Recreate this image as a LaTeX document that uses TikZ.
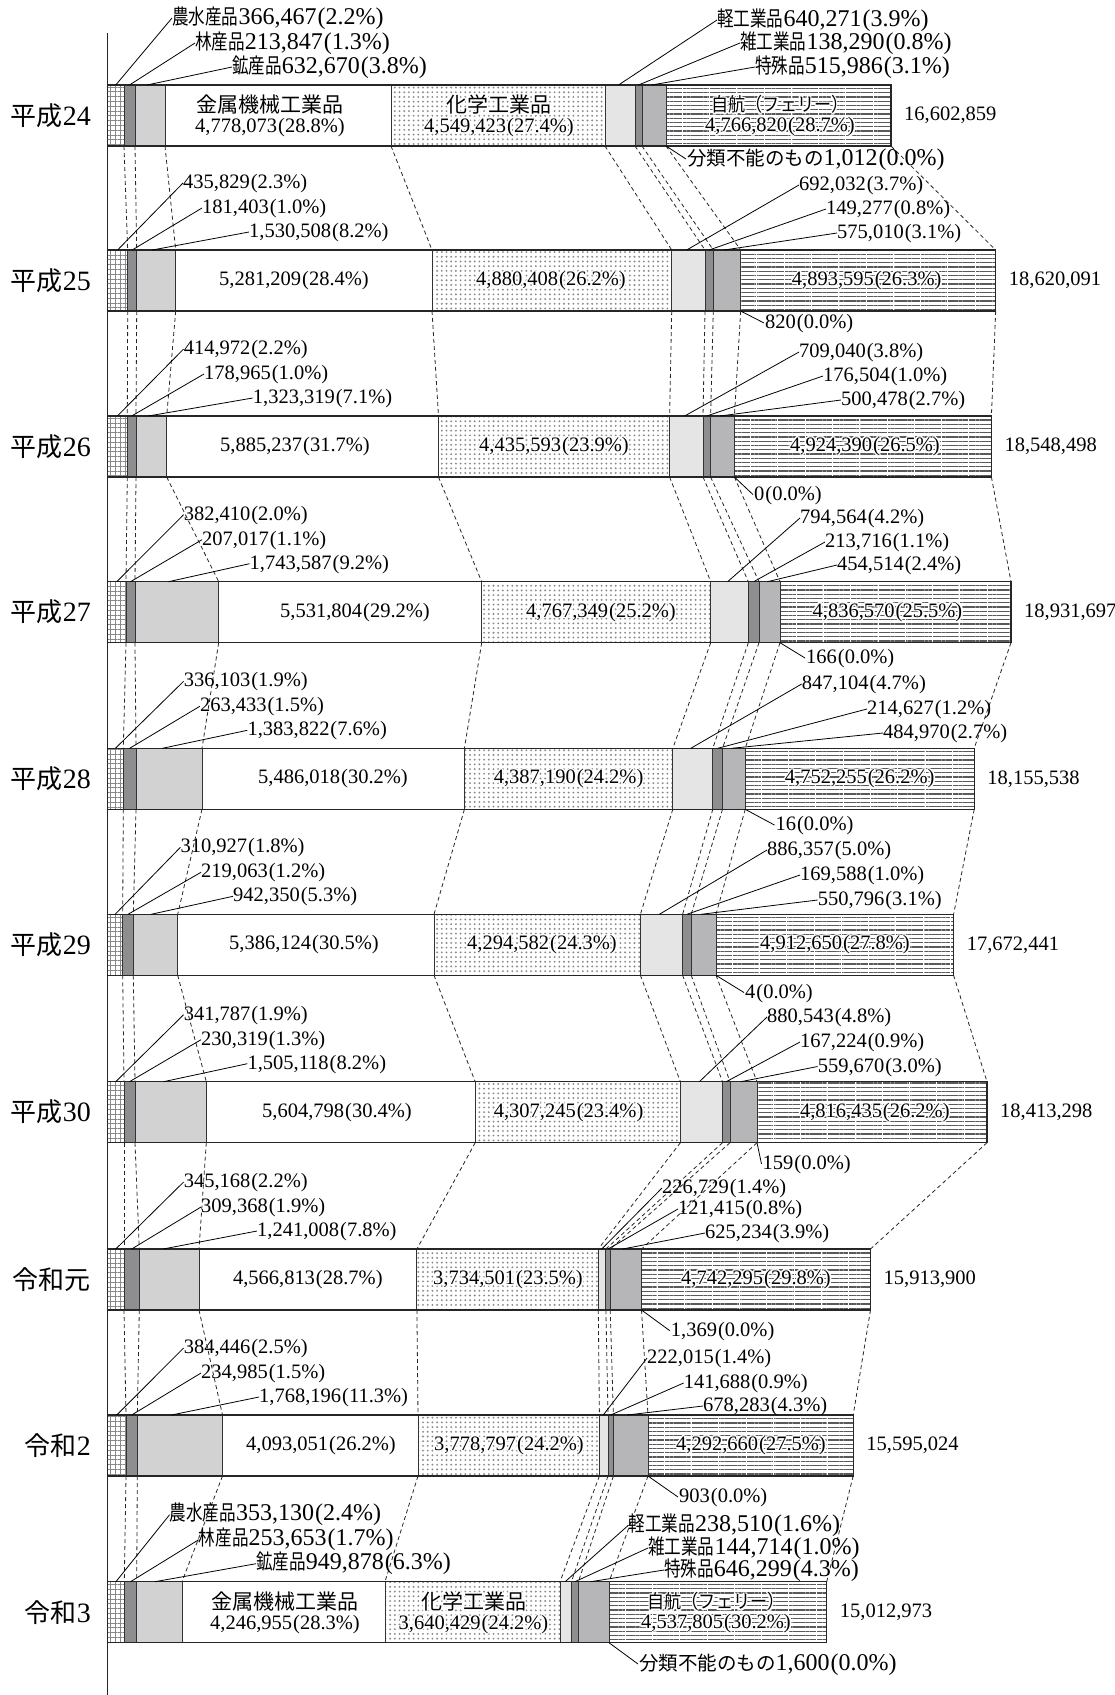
\documentclass[tikz,border=0pt]{standalone}
\usepackage{fontspec}
\setmainfont{Liberation Serif}
\newfontfamily\jpc{Noto Sans CJK JP}[FakeStretch=0.79]
\newfontfamily\jpm{Noto Sans CJK JP}[FakeStretch=0.9]
\newfontfamily\jpn{Noto Sans CJK JP}
\usetikzlibrary{calc,patterns.meta}
\definecolor{segdark}{HTML}{8E8E90}
\definecolor{seglight}{HTML}{D2D2D3}
\definecolor{segpale}{HTML}{E5E5E6}
\definecolor{segmed}{HTML}{B6B6B8}
\definecolor{patc}{HTML}{8A8A8A}
\definecolor{hatchc}{HTML}{5A5A5A}
\newcommand\cj[1]{{\jpc\fontsize{21}{22}\selectfont #1}}
\newcommand\cw[1]{{\jpn\fontsize{19.5}{22}\selectfont #1}}
\newcommand\ct[1]{{\jpn\fontsize{21}{20}\selectfont #1}}
\newcommand\cs[1]{{\jpm\fontsize{19}{20}\selectfont #1}}
\newcommand\rl[1]{{\jpn\fontsize{26}{28}\selectfont #1}}
\newcommand\pc[1]{\kern1pt(#1\%)}
\tikzset{
 lab/.style={inner sep=0pt, text height=15pt, text depth=4pt, font=\fontsize{20.5}{24}\selectfont, anchor=west},
 labbig/.style={inner sep=0pt, text height=16pt, text depth=4pt, font=\fontsize{24}{28}\selectfont, anchor=west},
 tot/.style={inner sep=0pt, font=\fontsize{20.5}{24}\selectfont, anchor=west},
 intext/.style={inner sep=0pt, font=\fontsize{20.5}{20}\selectfont, align=center},
 rowlab/.style={inner sep=0pt, font=\fontsize{28}{30}\selectfont, anchor=east},
 lead/.style={line width=0.8pt, black},
 conn/.style={line width=0.8pt, dash pattern=on 4pt off 3pt, black!85},
 segline/.style={line width=1pt, black!80},
 barline/.style={line width=1.3pt, black!85},
 axisline/.style={line width=1.5pt, black!85},
 seam/.style={line width=0.7pt, white},
 gridfill/.style={pattern={Hatch[distance=4.8pt,line width=0.6pt]}, pattern color=patc},
 dotfill/.style={pattern={Dots[distance=4.7pt,radius=1.05pt]}, pattern color=patc},
 linefill/.style={pattern={Lines[distance=4.25pt,line width=1.1pt]}, pattern color=hatchc},
}
\newcommand\defrow[3]{%
  \foreach \xx [count=\k from 0] in {#3} {
    \coordinate (#1t\k) at (\xx,#2);
    \coordinate (#1b\k) at (\xx,#2+61);
  }
  \coordinate (#1c) at (0,#2+30.5);
}
\newcommand\drawrow[1]{%
  \fill[white] (#1t0) rectangle (#1b10);
  \fill[gridfill] (#1t0) rectangle (#1b1);
  \fill[segdark] (#1t1) rectangle (#1b2);
  \fill[seglight] (#1t2) rectangle (#1b3);
  \fill[dotfill] (#1t4) rectangle (#1b5);
  \fill[segpale] (#1t5) rectangle (#1b6);
  \fill[segdark] (#1t6) rectangle (#1b7);
  \fill[segmed] (#1t7) rectangle (#1b8);
  \fill[linefill] (#1t9) rectangle (#1b10);
  \begin{scope}
    \clip (#1t9) rectangle (#1b10);
    \foreach \v in {0,...,14} {\draw[seam] ($(#1t9)+(16+27.3*\v,0)$) -- ($(#1b9)+(16+27.3*\v,0)$);}
  \end{scope}
  \foreach \k in {1,...,9} {\draw[segline] (#1t\k) -- (#1b\k);}
  \draw[barline] (#1t0) rectangle (#1b10);
}
\newcommand\connect[2]{\foreach \k in {1,...,8,10} {\draw[conn] (#1b\k) -- (#2t\k);}}
\newcommand\leftlabs[8]{%
  \node[#2] (#1L1) at (#3) {#6};
  \node[#2] (#1L2) at (#4) {#7};
  \node[#2] (#1L3) at (#5) {#8};
  \draw[lead] (#1L1.west) -- ($(#1t0)!.5!(#1t1)$);
  \draw[lead] (#1L2.west) -- ($(#1t1)!.5!(#1t2)$);
  \draw[lead] (#1L3.west) -- ($(#1t2)!.4!(#1t3)$);
}
\newcommand\rightlabs[8]{%
  \node[#2] (#1R1) at (#3) {#6};
  \node[#2] (#1R2) at (#4) {#7};
  \node[#2] (#1R3) at (#5) {#8};
  \draw[lead] (#1R1.west) -- ($(#1t5)!.45!(#1t6)$);
  \draw[lead] (#1R2.west) -- ($(#1t6)!.5!(#1t7)$);
  \draw[lead] (#1R3.west) -- ($(#1t7)!.4!(#1t8)$);
}
\newcommand\belowlab[4]{%
  \node[#2] (#1L7) at (#3) {#4};
  \draw[lead] ($(#1L7.west)+(-1,0)$) -- (#1b9);
}
\newcommand\totlab[2]{\node[tot] (#1T) at ($(#1t10)+(13,30.5)$) {#2};}
\newcommand\rowlab[2]{\node[rowlab] (#1Y) at ($(#1c)+(91,0)$) {#2};}
\newcommand\inplain[3]{\node[intext] (#1) at (#2) {#3};}
\newcommand\inhalo[3]{%
  \foreach \hx/\hy in {-1.6/0,1.6/0,0/-1.6,0/1.6,-1.15/-1.15,1.15/1.15,-1.15/1.15,1.15/-1.15}{
    \node[intext,text=white] at ($(#2)+(\hx,\hy)$) {#3};}
  \node[intext] (#1) at (#2) {#3};
}
\begin{document}
\begin{tikzpicture}[x=1pt,y=-1pt]
\useasboundingbox (0,0) rectangle (1114,1695);
\defrow{a}{85}{107.5,124,135,165,391,605,635,642,666,666,891}
\defrow{b}{250}{107.5,127.7,136.7,175.7,432,671.7,705,713.3,740.7,740.7,995.7}
\defrow{c}{416}{107.5,127.3,136,166.7,438.5,669.6,703,710.6,734.4,734.4,991.4}
\defrow{d}{581.7}{107.5,126,135,218.7,481.7,710.7,748.3,759,780,780,1011}
\defrow{e}{748.3}{107.5,123.3,136,202,464.4,672.8,712.8,722.5,745.2,745.2,974.2}
\defrow{f}{914.3}{107.5,122.7,133.3,177.7,434,640.4,682.6,691.2,716,716,953.6}
\defrow{g}{1081.7}{107.5,124,135,206.3,475.2,680.4,722.5,730,757,757,987}
\defrow{h}{1249}{107.5,124,139.3,199,416.9,598.3,605.9,610.2,641.5,641.5,870.5}
\defrow{i}{1415}{107.5,126,137.3,222.5,418,599.4,608,613.4,648,648,853.2}
\defrow{j}{1581.7}{107.5,124.3,136.7,182,385,560,571.4,578.4,609,609,826.7}
% connectors
\connect{a}{b}\connect{b}{c}\connect{c}{d}\connect{d}{e}\connect{e}{f}
\connect{f}{g}\connect{g}{h}\connect{h}{i}\connect{i}{j}
% bars
\drawrow{a}\drawrow{b}\drawrow{c}\drawrow{d}\drawrow{e}
\drawrow{f}\drawrow{g}\drawrow{h}\drawrow{i}\drawrow{j}
% row labels
\rowlab{a}{\rl{平成}24}\rowlab{b}{\rl{平成}25}\rowlab{c}{\rl{平成}26}
\rowlab{d}{\rl{平成}27}\rowlab{e}{\rl{平成}28}\rowlab{f}{\rl{平成}29}
\rowlab{g}{\rl{平成}30}\rowlab{h}{\rl{令和元}}\rowlab{i}{\rl{令和}2}
\rowlab{j}{\rl{令和}3}
% left labels
\leftlabs{a}{labbig}{172,18}{195,43}{232,67}{\cj{農水産品}366,467\pc{2.2}}{\cj{林産品}213,847\pc{1.3}}{\cj{鉱産品}632,670\pc{3.8}}
\leftlabs{b}{lab}{183,183}{202,208}{249,232}{435,829\pc{2.3}}{181,403\pc{1.0}}{1,530,508\pc{8.2}}
\leftlabs{c}{lab}{183.6,349}{204,374}{252.7,398}{414,972\pc{2.2}}{178,965\pc{1.0}}{1,323,319\pc{7.1}}
\leftlabs{d}{lab}{183.6,514.7}{202,539.7}{249.5,563.7}{382,410\pc{2.0}}{207,017\pc{1.1}}{1,743,587\pc{9.2}}
\leftlabs{e}{lab}{183.6,681.3}{199.8,706.3}{247.3,730.3}{336,103\pc{1.9}}{263,433\pc{1.5}}{1,383,822\pc{7.6}}
\leftlabs{f}{lab}{180.4,847.3}{201,872.3}{233,896.3}{310,927\pc{1.8}}{219,063\pc{1.2}}{942,350\pc{5.3}}
\leftlabs{g}{lab}{183.6,1014.7}{201,1039.7}{247.3,1063.7}{341,787\pc{1.9}}{230,319\pc{1.3}}{1,505,118\pc{8.2}}
\leftlabs{h}{lab}{183.6,1182}{201,1207}{257,1231}{345,168\pc{2.2}}{309,368\pc{1.9}}{1,241,008\pc{7.8}}
\leftlabs{i}{lab}{183.6,1348}{201,1373}{259,1397}{384,446\pc{2.5}}{234,985\pc{1.5}}{1,768,196\pc{11.3}}
\leftlabs{j}{labbig}{169.6,1514.7}{198.7,1539.7}{256,1563.7}{\cj{農水産品}353,130\pc{2.4}}{\cj{林産品}253,653\pc{1.7}}{\cj{鉱産品}949,878\pc{6.3}}
% right labels
\rightlabs{a}{labbig}{717,20}{740,43}{755,67}{\cj{軽工業品}640,271\pc{3.9}}{\cj{雑工業品}138,290\pc{0.8}}{\cj{特殊品}515,986\pc{3.1}}
\rightlabs{b}{lab}{799,185}{826,209}{837,233}{692,032\pc{3.7}}{149,277\pc{0.8}}{575,010\pc{3.1}}
\rightlabs{c}{lab}{799,352}{823,376}{841,400}{709,040\pc{3.8}}{176,504\pc{1.0}}{500,478\pc{2.7}}
\rightlabs{d}{lab}{800,518}{825,542}{837,565}{794,564\pc{4.2}}{213,716\pc{1.1}}{454,514\pc{2.4}}
\rightlabs{e}{lab}{801.7,684}{867,709}{883,733}{847,104\pc{4.7}}{214,627\pc{1.2}}{484,970\pc{2.7}}
\rightlabs{f}{lab}{767,850}{800,875}{817.6,900}{886,357\pc{5.0}}{169,588\pc{1.0}}{550,796\pc{3.1}}
\rightlabs{g}{lab}{767,1017}{800,1042}{817.6,1066.5}{880,543\pc{4.8}}{167,224\pc{0.9}}{559,670\pc{3.0}}
\rightlabs{h}{lab}{662,1188}{678,1209}{705,1233}{226,729\pc{1.4}}{121,415\pc{0.8}}{625,234\pc{3.9}}
\rightlabs{i}{lab}{647,1358}{683.6,1383}{703,1406}{222,015\pc{1.4}}{141,688\pc{0.9}}{678,283\pc{4.3}}
\rightlabs{j}{labbig}{628.6,1525}{648,1548}{664,1570}{\cj{軽工業品}238,510\pc{1.6}}{\cj{雑工業品}144,714\pc{1.0}}{\cj{特殊品}646,299\pc{4.3}}
% below labels
\belowlab{a}{labbig}{687,159}{\cw{分類不能のもの}1,012\pc{0.0}}
\belowlab{b}{lab}{765,323}{820\pc{0.0}}
\belowlab{c}{lab}{754,494.6}{0\pc{0.0}}
\belowlab{d}{lab}{806,658}{166\pc{0.0}}
\belowlab{e}{lab}{775.4,825}{16\pc{0.0}}
\belowlab{f}{lab}{745,992.5}{4\pc{0.0}}
\belowlab{g}{lab}{762.5,1164}{159\pc{0.0}}
\belowlab{h}{lab}{670.7,1330.6}{1,369\pc{0.0}}
\belowlab{i}{lab}{679,1497}{903\pc{0.0}}
\belowlab{j}{labbig}{639,1664}{\cw{分類不能のもの}1,600\pc{0.0}}
% totals
\totlab{a}{16,602,859}\totlab{b}{18,620,091}\totlab{c}{18,548,498}
\totlab{d}{18,931,697}\totlab{e}{18,155,538}\totlab{f}{17,672,441}
\totlab{g}{18,413,298}\totlab{h}{15,913,900}\totlab{i}{15,595,024}
\totlab{j}{15,012,973}
% inner texts
\inplain{aM}{270,116}{\ct{金属機械工業品}\\4,778,073\pc{28.8}}
\inhalo{aC}{499,116}{\ct{化学工業品}\\4,549,423\pc{27.4}}
\inhalo{aS}{780,116}{\cs{自航（フェリー）}\\4,766,820\pc{28.7}}
\inplain{bM}{294,280.5}{5,281,209\pc{28.4}}
\inhalo{bC}{551,280.5}{4,880,408\pc{26.2}}
\inhalo{bS}{866.7,280.5}{4,893,595\pc{26.3}}
\inplain{cM}{295,446.5}{5,885,237\pc{31.7}}
\inhalo{cC}{554,446.5}{4,435,593\pc{23.9}}
\inhalo{cS}{865,446.5}{4,924,390\pc{26.5}}
\inplain{dM}{355,612.2}{5,531,804\pc{29.2}}
\inhalo{dC}{601,612.2}{4,767,349\pc{25.2}}
\inhalo{dS}{887.5,612.2}{4,836,570\pc{25.5}}
\inplain{eM}{333,778.8}{5,486,018\pc{30.2}}
\inhalo{eC}{568.6,778.8}{4,387,190\pc{24.2}}
\inhalo{eS}{859.7,778.8}{4,752,255\pc{26.2}}
\inplain{fM}{304,944.8}{5,386,124\pc{30.5}}
\inhalo{fC}{542,944.8}{4,294,582\pc{24.3}}
\inhalo{fS}{835,944.8}{4,912,650\pc{27.8}}
\inplain{gM}{337,1112.2}{5,604,798\pc{30.4}}
\inhalo{gC}{568.6,1112.2}{4,307,245\pc{23.4}}
\inhalo{gS}{874.8,1112.2}{4,816,435\pc{26.2}}
\inplain{hM}{307.8,1279.5}{4,566,813\pc{28.7}}
\inhalo{hC}{508,1279.5}{3,734,501\pc{23.5}}
\inhalo{hS}{756,1279.5}{4,742,295\pc{29.8}}
\inplain{iM}{321,1445.5}{4,093,051\pc{26.2}}
\inhalo{iC}{509,1445.5}{3,778,797\pc{24.2}}
\inhalo{iS}{751,1445.5}{4,292,660\pc{27.5}}
\inplain{jM}{285,1613}{\ct{金属機械工業品}\\4,246,955\pc{28.3}}
\inhalo{jC}{473.5,1613}{\ct{化学工業品}\\3,640,429\pc{24.2}}
\inhalo{jS}{716,1613}{\cs{自航（フェリー）}\\4,537,805\pc{30.2}}
% axis
\draw[axisline] (107.5,33) -- (107.5,1695);
\end{tikzpicture}
\end{document}
